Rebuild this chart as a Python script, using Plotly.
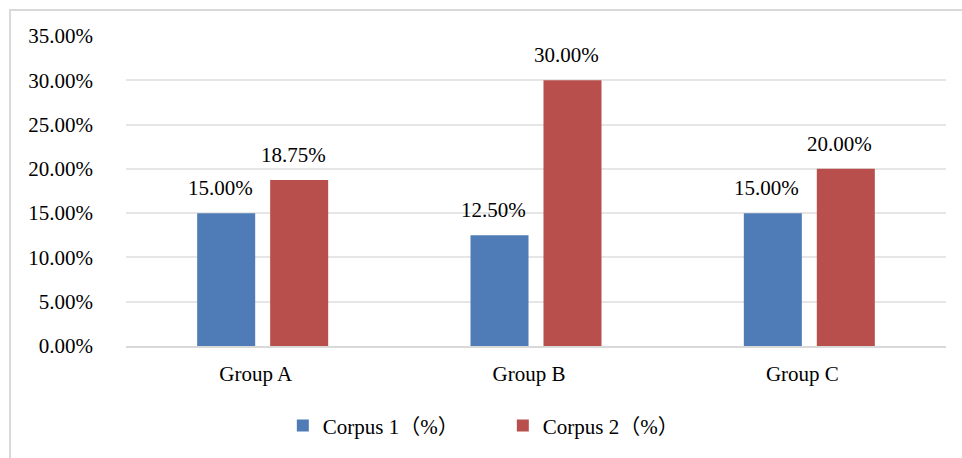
import plotly.graph_objects as go

# Chart data
groups = ["Group A", "Group B", "Group C"]
corpus1 = [15.00, 12.50, 15.00]
corpus2 = [18.75, 30.00, 20.00]
series_names = ["Corpus 1（%）", "Corpus 2（%）"]
y_ticks = [0, 5, 10, 15, 20, 25, 30, 35]
y_tick_labels = [f"{v:.2f}%" for v in y_ticks]

FONT = "Liberation Serif"
LEGEND_FONT = "Liberation Serif, Noto Sans CJK SC"
BLUE = "#4F7CB6"
RED = "#B94F4C"

W, H = 962, 458
ML, MR, MT, MB = 126, 16, 36, 112
PW, PH = W - ML - MR, H - MT - MB

BARGAP, BARGROUPGAP = 0.466, 0.205
# distance from the group centre to each bar centre, in pixels
slot_px = PW / len(groups) * (1 - BARGAP) / 2
half_slot = slot_px / 2

fig = go.Figure()
for name, vals, color in [(series_names[0], corpus1, BLUE), (series_names[1], corpus2, RED)]:
    fig.add_trace(go.Bar(
        x=groups, y=vals, name=name,
        marker=dict(color=color, line=dict(width=0)),
    ))

# Value labels above each bar
for vals, sign in [(corpus1, -1), (corpus2, 1)]:
    for g, v in zip(groups, vals):
        fig.add_annotation(
            x=g, y=v, text=f"{v:.2f}%", showarrow=False,
            xshift=sign * half_slot - 6, yshift=11,
            yanchor="bottom", xanchor="center",
            font=dict(family=FONT, size=21, color="#000000"),
        )

# Outer frame of the chart
def px_to_paper_x(px):
    return (px - ML) / PW

def px_to_paper_y(py):
    return (H - MB - py) / PH

fig.add_shape(
    type="rect", xref="paper", yref="paper", layer="below",
    x0=px_to_paper_x(10), x1=px_to_paper_x(W + 5),
    y0=px_to_paper_y(H + 5), y1=px_to_paper_y(10),
    line=dict(color="#D9D9D9", width=2), fillcolor="rgba(0,0,0,0)",
)

fig.update_layout(
    width=W, height=H,
    margin=dict(l=ML, r=MR, t=MT, b=MB),
    paper_bgcolor="white", plot_bgcolor="white",
    font=dict(family=FONT, size=21, color="#000000"),
    barmode="group", bargap=BARGAP, bargroupgap=BARGROUPGAP,
    showlegend=True,
    legend=dict(
        orientation="h", xref="container", yref="container",
        x=0.294, xanchor="left", y=0.07, yanchor="middle",
        font=dict(family=LEGEND_FONT, size=21, color="#000000"),
        entrywidth=175, entrywidthmode="pixels",
        itemwidth=30, traceorder="normal",
    ),
    xaxis=dict(
        showgrid=False, showline=True, linecolor="#D9D9D9", linewidth=2,
        ticks="", tickfont=dict(family=FONT, size=21, color="#000000"),
        ticklabelstandoff=8, ticklabelshift=-7,
    ),
    yaxis=dict(
        range=[0, 35], tickvals=y_ticks, ticktext=y_tick_labels,
        showgrid=True, gridcolor="#E6E6E6", gridwidth=2,
        zeroline=False, showline=False, ticks="",
        tickfont=dict(family=FONT, size=21, color="#000000"),
        ticklabelstandoff=32,
    ),
)

fig.write_html("out.html")
